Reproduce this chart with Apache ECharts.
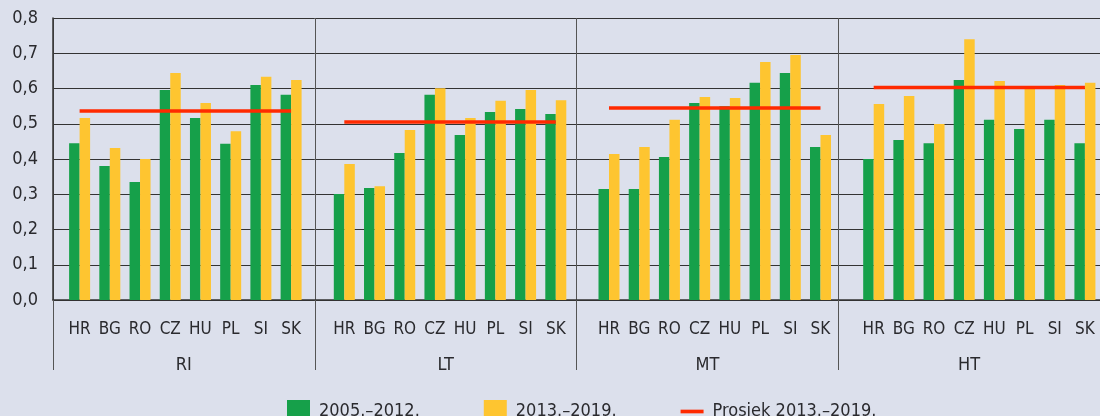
<!DOCTYPE html>
<html>
<head>
<meta charset="utf-8">
<script src="https://cdn.jsdelivr.net/npm/echarts@6/dist/echarts.min.js"></script>
<style>
html,body{margin:0;padding:0;background:#dce0ec;}
#c{width:1100px;height:416px;}
</style>
</head>
<body>
<div id="c"></div>
<script>
var countries = ['HR','BG','RO','CZ','HU','PL','SI','SK'];
var groups = ['RI','LT','MT','HT'];
var period1Name = '2005.–2012.';
var period2Name = '2013.–2019.';
var avgName = 'Prosjek 2013.–2019.';
var period1 = [
  [0.445,0.380,0.335,0.596,0.516,0.443,0.610,0.582],
  [0.301,0.318,0.417,0.582,0.468,0.533,0.542,0.528],
  [0.315,0.315,0.406,0.559,0.550,0.616,0.644,0.434],
  [0.400,0.454,0.445,0.624,0.511,0.485,0.511,0.445]
];
var period2 = [
  [0.516,0.431,0.400,0.644,0.559,0.479,0.633,0.624],
  [0.386,0.323,0.482,0.601,0.516,0.565,0.596,0.567],
  [0.414,0.434,0.511,0.576,0.573,0.675,0.695,0.468],
  [0.556,0.579,0.499,0.740,0.621,0.601,0.610,0.616]
];
var avg2013 = [0.536,0.505,0.545,0.603];

var FONT = "'DejaVu Sans Condensed','Liberation Sans Narrow',sans-serif";
var TXT = '#2a2a2e';
var GREEN = '#16a04a', YELLOW = '#fec530', RED = '#ff2a00', LINE = '#333333';

var L = 53, GW = 264.7, TOP = 18, H = 282, PAD = 11.5;

var grids = [{left:L, top:TOP, width:GW*4, height:H}];
var xAxes = [{
  gridIndex:0, type:'category', data:groups, boundaryGap:true,
  axisLine:{show:true, lineStyle:{color:LINE, width:1.5}},
  axisTick:{show:true, interval:0, length:70, alignWithLabel:false, lineStyle:{color:'#555', width:1}},
  splitLine:{show:true, interval:0, lineStyle:{color:'#555', width:1}},
  axisLabel:{interval:0, margin:56, fontFamily:FONT, fontSize:18, color:TXT}
}];
var yAxes = [{
  gridIndex:0, type:'value', min:0, max:0.8, interval:0.1,
  axisLine:{show:true, lineStyle:{color:LINE, width:1.5}},
  axisTick:{show:false},
  splitLine:{show:true, lineStyle:{color:LINE, width:1}},
  axisLabel:{margin:15, fontFamily:FONT, fontSize:18, color:TXT,
    formatter:function(v){return v.toFixed(1).replace('.',',');}}
}];
var series = [];
for (var i=0;i<4;i++){
  grids.push({left:L+i*GW+PAD, top:TOP, width:GW-2*PAD, height:H});
  xAxes.push({gridIndex:i+1, type:'category', data:countries,
    axisLine:{show:false}, axisTick:{show:false}, splitLine:{show:false},
    axisLabel:{interval:0, margin:21, fontFamily:FONT, fontSize:17, color:TXT}});
  yAxes.push({gridIndex:i+1, type:'value', min:0, max:0.8, interval:0.1, show:false});
  series.push({name:period1Name, type:'bar', xAxisIndex:i+1, yAxisIndex:i+1,
    data:period1[i], barWidth:10.5, barGap:'0%', itemStyle:{color:GREEN}, z:3});
  series.push({name:period2Name, type:'bar', xAxisIndex:i+1, yAxisIndex:i+1,
    data:period2[i], barWidth:10.5, barGap:'0%', itemStyle:{color:YELLOW}, z:3});
  series.push({name:avgName, type:'line', xAxisIndex:i+1, yAxisIndex:i+1,
    data:countries.map(function(){return avg2013[i];}),
    symbol:'none', showSymbol:false, lineStyle:{color:RED, width:3.5}, itemStyle:{color:RED}, z:5});
}

var chart = echarts.init(document.getElementById('c'), null, {renderer:'canvas'});
chart.setOption({
  backgroundColor:'#dce0ec',
  animation:false,
  grid:grids, xAxis:xAxes, yAxis:yAxes, series:series,
  legend:{
    left:282, top:395, itemWidth:23, itemHeight:23, itemGap:64,
    data:[
      {name:period1Name, icon:'rect'},
      {name:period2Name, icon:'rect'},
      {name:avgName, icon:'path://M0,0h25v4h-25z', itemStyle:{color:RED}}
    ],
    textStyle:{fontFamily:FONT, fontSize:18, color:TXT, padding:[0,0,0,4]}
  }
});
</script>
</body>
</html>
